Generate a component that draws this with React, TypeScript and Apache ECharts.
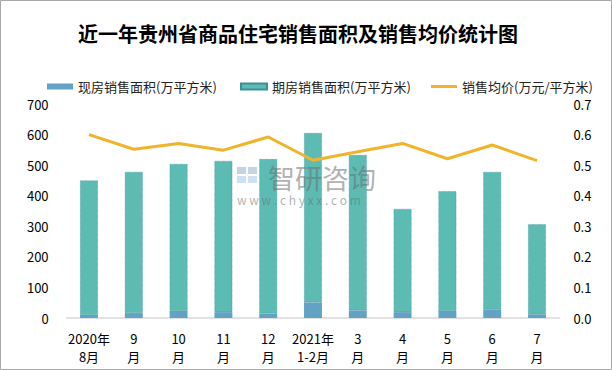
import React, { useEffect, useRef } from "react";
import * as echarts from "echarts";

const categories = ["2020年\n8月", "9\n月", "10\n月", "11\n月", "12\n月", "2021年\n1-2月", "3\n月", "4\n月", "5\n月", "6\n月", "7\n月"];
const xianfang = [10, 16, 23, 19, 15, 51, 25, 19, 23, 28, 12];
const qifang = [440, 462, 481, 495, 505, 554, 508, 338, 392, 450, 295];
const price = [0.6, 0.552, 0.571, 0.549, 0.592, 0.516, 0.544, 0.571, 0.521, 0.566, 0.515];

const FONT = "'Noto Sans CJK SC', 'Noto Sans', sans-serif";
const S1 = "现房销售面积(万平方米)";
const S2 = "期房销售面积(万平方米)";
const S3 = "销售均价(万元/平方米)";

const legendBase = {
  top: 75,
  itemWidth: 26,
  itemHeight: 6,
  textStyle: { fontSize: 13, color: "#222", fontFamily: FONT },
};

export default function App() {
  const ref = useRef<HTMLDivElement>(null);
  useEffect(() => {
    document.body.style.margin = "0";
    const chart = echarts.init(ref.current!, null, { renderer: "svg" });
    const wm = "rgba(110,110,110,0.55)";
    chart.setOption({
      animation: false,
      backgroundColor: "#fff",
      textStyle: { fontFamily: FONT },
      title: {
        text: "近一年贵州省商品住宅销售面积及销售均价统计图",
        left: 73,
        top: 18,
        textStyle: { fontSize: 20, fontWeight: "bold", color: "#000", fontFamily: FONT },
      },
      legend: [
        { ...legendBase, left: 42, data: [{ name: S1, icon: "rect" }] },
        { ...legendBase, left: 235, data: [{ name: S2, icon: "rect" }] },
        {
          ...legendBase,
          left: 426,
          symbolKeepAspect: true,
          data: [{ name: S3, icon: "path://M0,0h26v3h-26z", itemStyle: { color: "#f0b42a" } }],
        },
      ],
      grid: { left: 66.6, right: 52.6, top: 104, bottom: 52 },
      xAxis: {
        type: "category",
        data: categories,
        axisLine: { lineStyle: { color: "#d9d9d9", width: 1.5 } },
        axisTick: { show: false },
        axisLabel: { fontSize: 13, color: "#000", lineHeight: 18, margin: 11, interval: 0 },
      },
      yAxis: [
        {
          type: "value",
          min: 0,
          max: 700,
          interval: 100,
          splitLine: { show: false },
          axisLine: { show: false },
          axisTick: { show: false },
          axisLabel: { fontSize: 13, color: "#000", margin: 18 },
        },
        {
          type: "value",
          min: 0,
          max: 0.7,
          interval: 0.1,
          splitLine: { show: false },
          axisLine: { show: false },
          axisTick: { show: false },
          axisLabel: { fontSize: 13, color: "#000", margin: 14, formatter: (v: number) => v.toFixed(1) },
        },
      ],
      series: [
        {
          name: S1,
          type: "bar",
          stack: "a",
          data: xianfang,
          barWidth: "40%",
          itemStyle: { color: "#62a2c2" },
        },
        {
          name: S2,
          type: "bar",
          stack: "a",
          data: qifang,
          barWidth: "40%",
          itemStyle: { color: "#5cbcb4", borderColor: "#3d8f9c", borderWidth: 0.6, borderType: "dotted" },
        },
        {
          name: S3,
          type: "line",
          yAxisIndex: 1,
          data: price,
          symbol: "none",
          itemStyle: { color: "#f0b42a" },
          lineStyle: { color: "#f0b42a", width: 3 },
        },
      ],
      graphic: [
        {
          type: "rect",
          z: 100,
          shape: { x: 0.5, y: 0.5, width: 611, height: 369 },
          style: { fill: "none", stroke: "#a8a8a8", lineWidth: 1 },
          silent: true,
        },
        { type: "rect", z: 100, silent: true, shape: { x: 237, y: 167, width: 9, height: 7 }, style: { fill: "rgba(180,195,220,0.75)" } },
        { type: "rect", z: 100, silent: true, shape: { x: 248, y: 167, width: 9, height: 7 }, style: { fill: "rgba(180,195,220,0.75)" } },
        { type: "rect", z: 100, silent: true, shape: { x: 237, y: 176, width: 9, height: 7 }, style: { fill: "rgba(190,215,240,0.75)" } },
        { type: "rect", z: 100, silent: true, shape: { x: 248, y: 176, width: 9, height: 7 }, style: { fill: "rgba(190,215,240,0.75)" } },
        {
          type: "text",
          z: 100,
          silent: true,
          x: 268,
          y: 164,
          style: { text: "智研咨询", fontSize: 27, lineHeight: 27, fill: wm, fontFamily: FONT },
        },
        {
          type: "text",
          z: 100,
          silent: true,
          x: 237,
          y: 193,
          style: { text: "w w w . c h y x x . c o m", fontSize: 12, lineHeight: 12, fill: wm, fontFamily: FONT },
        },
      ],
    });
    return () => chart.dispose();
  }, []);
  return <div ref={ref} style={{ position: "absolute", left: 0, top: 0, width: 612, height: 370 }} />;
}
